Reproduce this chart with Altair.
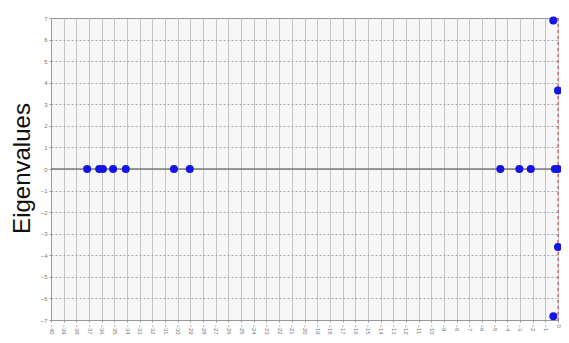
import altair as alt
import pandas as pd

# Eigenvalue points (real part on x, imaginary part on y)
xs = [-37.15, -36.2, -35.9, -35.1, -34.1, -30.3, -29.05, -4.55, -3.05, -2.15, -0.25, 0.0, -0.37, 0.0, 0.0, -0.37]
ys = [0, 0, 0, 0, 0, 0, 0, 0, 0, 0, 0, 0, 6.88, 3.64, -3.62, -6.83]
x_ticks = list(range(-40, 1))
y_ticks = list(range(-7, 8))

pts = pd.DataFrame({"x": xs, "y": ys})

W, H = 507, 302
xscale = alt.Scale(domain=[-40, 0], nice=False, zero=False)
yscale = alt.Scale(domain=[-7, 7], nice=False, zero=False)

xaxis = alt.Axis(values=x_ticks, labelAngle=90, labelAlign="left", labelBaseline="middle",
                 labelFontSize=6, labelColor="#777", labelPadding=2, tickSize=2,
                 tickColor="#999", domainColor="#999", gridColor="#c4c4c4", gridWidth=1,
                 title=None, labelFlush=False, labelOverlap=False)
yaxis = alt.Axis(values=y_ticks, labelFontSize=6, labelColor="#777", labelPadding=2, tickSize=2,
                 tickColor="#999", domainColor="#999", gridColor="#a8a8a8", gridDash=[2, 2],
                 gridWidth=1, title="Eigenvalues", titleFontSize=24, titleFont="Liberation Sans",
                 titleFontWeight="normal", titleColor="#111", titleX=-29, titleY=150,
                 titleAngle=-90, titleAlign="center", titleBaseline="middle",
                 labelFlush=False, labelOverlap=False)

X = alt.X("x:Q", scale=xscale, axis=xaxis)
Y = alt.Y("y:Q", scale=yscale, axis=yaxis)

zero_line = alt.Chart(pd.DataFrame({"y": [0]})).mark_rule(color="#7a7a7a", strokeWidth=1.6).encode(y=Y)

red_line = alt.Chart(pd.DataFrame({"x": [0]})).mark_rule(color="#e03030", strokeDash=[3, 3], strokeWidth=1).encode(x=X)

points = alt.Chart(pts).mark_circle(size=64, color="#1414e6", opacity=1).encode(x=X, y=Y)

chart = alt.layer(zero_line, red_line, points).properties(
    width=W, height=H,
    autosize=alt.AutoSizeParams(type="none"),
    padding={"left": 43, "top": 10, "right": 3, "bottom": 15},
    background="white",
).configure_view(fill="#f7f7f7", stroke="#888", strokeWidth=1)

chart.save("out.html", embed_options={"renderer": "svg", "actions": False})
